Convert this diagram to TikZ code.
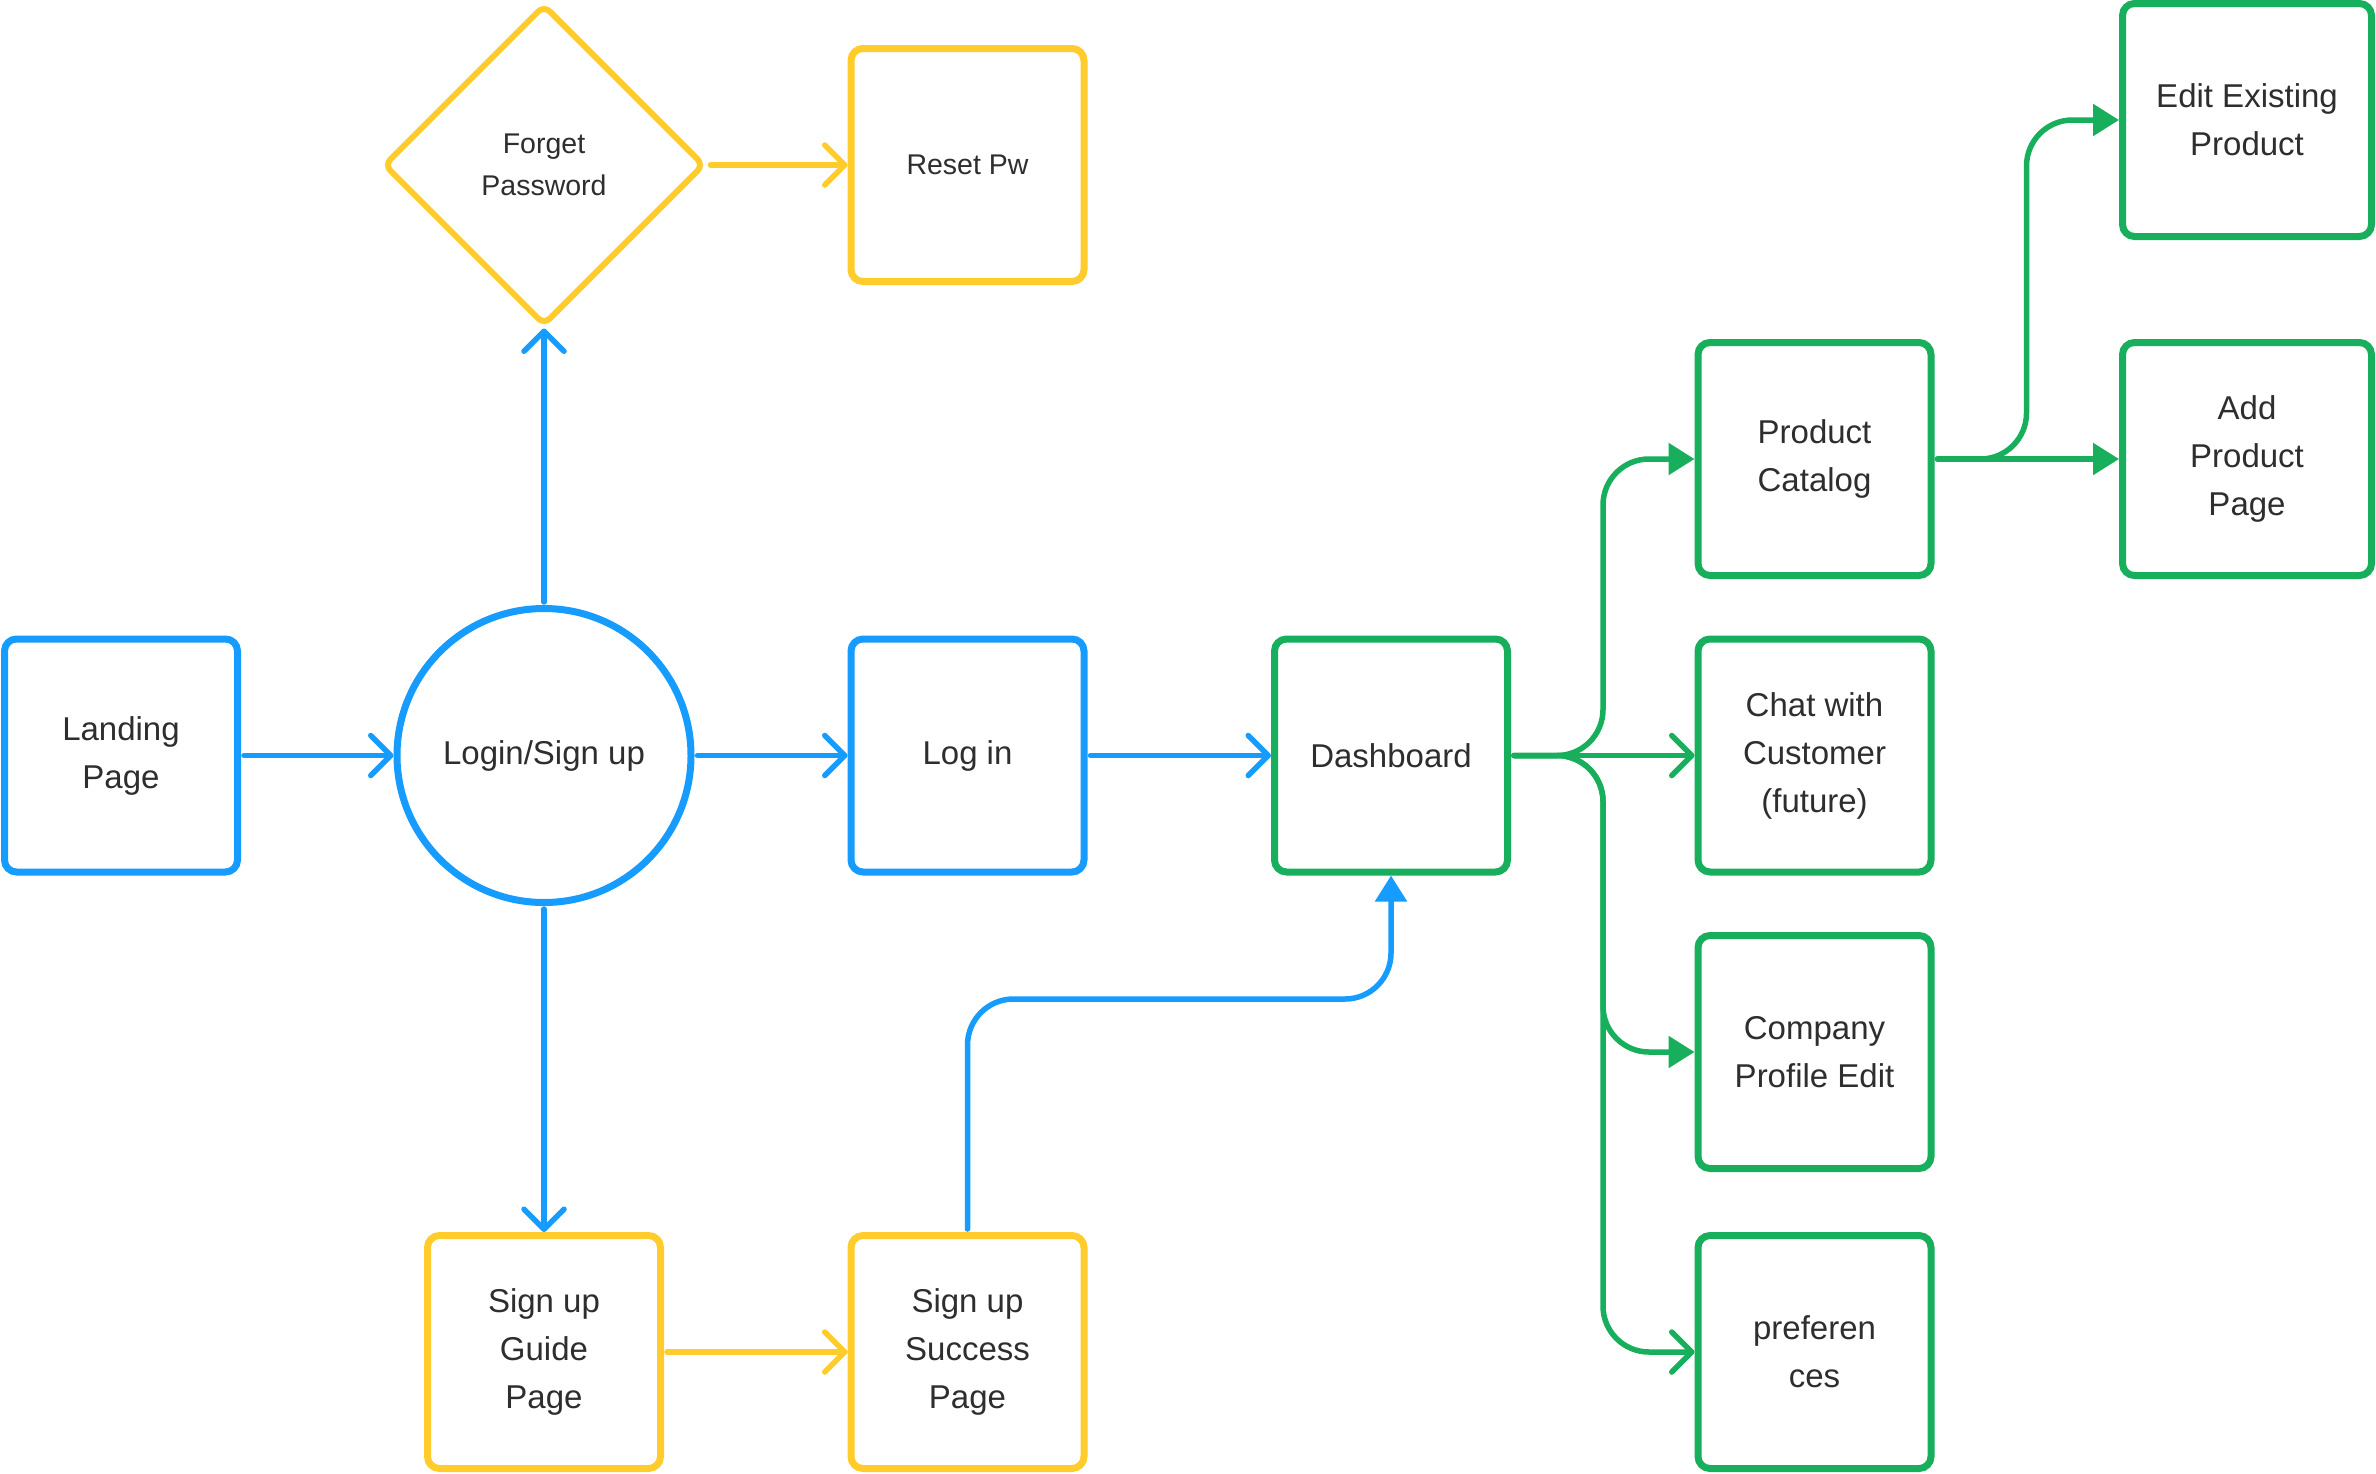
\documentclass[tikz,border=0pt]{standalone}
\usepackage{fontspec}
\setmainfont{Liberation Sans}
\usetikzlibrary{arrows.meta,shapes.geometric}
\definecolor{flowblue}{RGB}{22,155,255}
\definecolor{flowyellow}{RGB}{255,204,43}
\definecolor{flowgreen}{RGB}{23,174,92}
\definecolor{flowtext}{RGB}{46,46,46}

\begin{document}
\begin{tikzpicture}[x=1pt,y=-1pt,
  txt/.style={text=flowtext,font=\fontsize{33}{48}\selectfont},
  small/.style={font=\fontsize{28.5}{42}\selectfont},
  page/.style={draw,txt,line width=7pt,rounded corners=12pt,minimum width=233pt,minimum height=233pt,align=center},
  wide/.style={page,minimum width=249pt},
  chev/.style={-{Straight Barb[length=20pt,width=40pt,round]},line width=5.5pt,line cap=round,shorten <=3pt,rounded corners=46pt},
  tri/.style={-{Triangle[length=26pt,width=31pt]},line width=5.5pt,line cap=round,shorten <=3pt,rounded corners=46pt}]
  \fill[white] (0,0) rectangle (2376,1473);
  \useasboundingbox (0,0) rectangle (2376,1473);

  \node[page,draw=flowblue] (land) at (121,755.5) {Landing\\Page};
  \node[circle,draw=flowblue,txt,line width=7pt,minimum size=294pt] (login) at (544,755.5) {Login/Sign up};
  \node[page,draw=flowblue] (logn) at (967.5,755.5) {Log in};
  \node[page,draw=flowgreen] (dash) at (1391,755.5) {Dashboard};
  \node[diamond,aspect=1,draw=flowyellow,txt,small,line width=6pt,rounded corners=8pt,inner sep=0pt,align=center,minimum width=321pt,minimum height=321pt] (forget) at (544,165) {Forget\\Password};
  \node[page,small,draw=flowyellow] (reset) at (967.5,165) {Reset Pw};
  \node[page,draw=flowyellow] (guide) at (544,1352) {Sign up\\Guide\\Page};
  \node[page,draw=flowyellow] (succ) at (967.5,1352) {Sign up\\Success\\Page};
  \node[page,draw=flowgreen] (cat) at (1814.5,459) {Product\\Catalog};
  \node[page,draw=flowgreen] (chat) at (1814.5,755.5) {Chat with\\Customer\\(future)};
  \node[page,draw=flowgreen] (comp) at (1814.5,1052) {Company\\Profile Edit};
  \node[page,draw=flowgreen] (pref) at (1814.5,1352) {preferen\\ces};
  \node[wide,draw=flowgreen] (edit) at (2247,120) {Edit Existing\\Product};
  \node[wide,draw=flowgreen] (add) at (2247,459) {Add\\Product\\Page};

  \coordinate (bend) at (1391,999);
  \coordinate (hub) at (1603,755.5);
  \coordinate (fork) at (2026.5,459);

  \draw[chev,flowblue] (land.east) -- (login.west);
  \draw[chev,flowblue] (login.east) -- (logn.west);
  \draw[chev,flowblue] (logn.east) -- (dash.west);
  \draw[chev,flowblue] (login.north) -- (forget.south);
  \draw[chev,flowblue] (login.south) -- (guide.north);
  \draw[tri,flowblue] (succ.north) |- (bend) -- (dash.south);
  \draw[chev,flowyellow] (forget.east) -- (reset.west);
  \draw[chev,flowyellow] (guide.east) -- (succ.west);
  \draw[chev,flowgreen] (dash.east) -- (chat.west);
  \draw[tri,flowgreen] (dash.east) -- (hub) |- (cat.west);
  \draw[tri,flowgreen] (dash.east) -- (hub) |- (comp.west);
  \draw[chev,flowgreen] (dash.east) -- (hub) |- (pref.west);
  \draw[tri,flowgreen] (cat.east) -- (add.west);
  \draw[tri,flowgreen] (cat.east) -- (fork) |- (edit.west);
\end{tikzpicture}
\end{document}
